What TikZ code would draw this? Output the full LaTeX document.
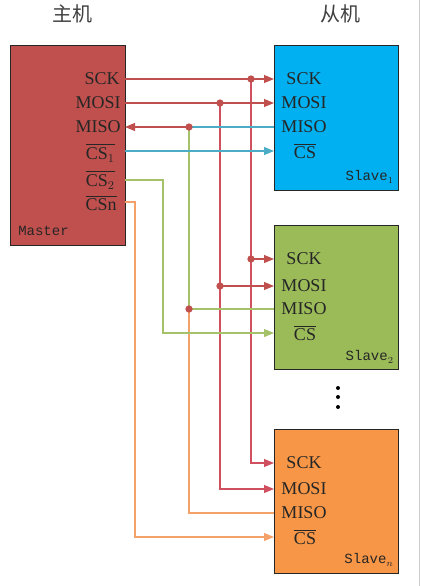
\documentclass[tikz,border=0pt]{standalone}
\usepackage{amsmath}
\usepackage{fontspec}
\setmainfont{Liberation Serif}
\setmonofont{Liberation Mono}
\newfontfamily\cjk{Noto Sans CJK SC}
\usetikzlibrary{arrows.meta}
\definecolor{masterred}{HTML}{C0504D}
\definecolor{busred}{HTML}{D0505F}
\definecolor{slaveblue}{HTML}{00B0F0}
\definecolor{slavegreen}{HTML}{9BBB59}
\definecolor{slaveorange}{HTML}{F79646}
\definecolor{wireblue}{HTML}{4BACC6}
\definecolor{wiregreen}{HTML}{A5C26A}
\definecolor{wireorange}{HTML}{F5A26A}

\begin{document}
\begin{tikzpicture}[x=0.75pt, y=-0.75pt, >={Triangle[length=7.5pt,width=6pt]},
  box/.style={draw=black!85, line width=1pt, inner sep=0pt, anchor=north west},
  pin/.style={font=\fontsize{13.5}{13.5}\selectfont, text=black!85, inner sep=0pt},
  tag/.style={font=\ttfamily\fontsize{10.5}{10.5}\selectfont, text=black!85, inner sep=0pt},
  title/.style={font=\cjk\fontsize{15}{15}\selectfont, text=black!75},
  wire/.style={line width=0.8pt},
  etc/.style={circle, fill=black, inner sep=0pt, minimum size=3pt}]
  \useasboundingbox (0,0) rectangle (421,586);
  \draw[black!20, line width=0.75pt] (419,0) -- (419,586);

  % Nodes
  \node[title] (t-master) at (72,14) {主机};
  \node[title] (t-slave) at (340,14) {从机};

  \node[box, fill=masterred, minimum width=86.25pt, minimum height=150pt] (master) at (10,45) {};
  \node[box, fill=slaveblue, minimum width=93pt, minimum height=108.75pt] (slave1) at (274,45) {};
  \node[box, fill=slavegreen, minimum width=93pt, minimum height=108pt] (slave2) at (274,225) {};
  \node[box, fill=slaveorange, minimum width=93pt, minimum height=108pt] (slaven) at (274,429) {};

  \node[pin, anchor=east] (l-m-sck) at (120,79) {SCK};
  \node[pin, anchor=east] (l-m-mosi) at (121,103) {MOSI};
  \node[pin, anchor=east] (l-m-miso) at (121,127) {MISO};
  \node[pin, anchor=east] (l-m-cs1) at (115,153) {$\overline{\text{CS}_1}$};
  \node[pin, anchor=east] (l-m-cs2) at (115,180) {$\overline{\text{CS}_2}$};
  \node[pin, anchor=east] (l-m-csn) at (117,203) {$\overline{\text{CSn}}$};
  \node[tag, anchor=west] (l-master) at (18,231) {Master};

  \foreach \s/\y in {1/79, 2/259, n/463}{
    \node[pin] (l-s\s-sck) at (304,\y) {SCK};
  }
  \node[pin] (l-s1-mosi) at (304,103) {MOSI};
  \node[pin] (l-s1-miso) at (304,127) {MISO};
  \node[pin] (l-s1-cs) at (305,151) {$\overline{\text{CS}}$};
  \node[tag, anchor=east] (l-slave1) at (394,177) {Slave$_1$};

  \node[pin] (l-s2-mosi) at (304,286) {MOSI};
  \node[pin] (l-s2-miso) at (304,309) {MISO};
  \node[pin] (l-s2-cs) at (305,333) {$\overline{\text{CS}}$};
  \node[tag, anchor=east] (l-slave2) at (394,357) {Slave$_2$};

  \node[pin] (l-sn-mosi) at (304,489) {MOSI};
  \node[pin] (l-sn-miso) at (304,513) {MISO};
  \node[pin] (l-sn-cs) at (305,537) {$\overline{\text{CS}}$};
  \node[tag, anchor=east] (l-slaven) at (394,560) {Slave$_n$};

  \node[etc] (e1) at (338,388) {};
  \node[etc] (e2) at (338,397) {};
  \node[etc] (e3) at (338,407) {};

  % Pins
  \coordinate (m-sck) at (125,79);
  \coordinate (m-mosi) at (125,103);
  \coordinate (m-miso) at (125,127);
  \coordinate (m-cs1) at (125,151);
  \coordinate (m-cs2) at (125,180);
  \coordinate (m-csn) at (125,202);
  \coordinate (s1-sck) at (274,79);
  \coordinate (s1-mosi) at (274,103);
  \coordinate (s1-miso) at (274,127);
  \coordinate (s1-cs) at (274,151);
  \coordinate (s2-sck) at (274,259);
  \coordinate (s2-mosi) at (274,286);
  \coordinate (s2-miso) at (274,309);
  \coordinate (s2-cs) at (274,333);
  \coordinate (sn-sck) at (274,463);
  \coordinate (sn-mosi) at (274,489);
  \coordinate (sn-miso) at (274,513);
  \coordinate (sn-cs) at (274,537);
  \coordinate (t-cs2) at (163,180);
  \coordinate (t-csn) at (135,202);

  % Junctions
  \coordinate (j-sck1) at (251,79);
  \coordinate (j-sck2) at (251,259);
  \coordinate (j-mosi1) at (220,103);
  \coordinate (j-mosi2) at (220,286);
  \coordinate (j-miso1) at (189,127);
  \coordinate (j-miso2) at (189,309);

  % Arrows
  \draw[wire, masterred, ->] (m-sck) -- (s1-sck);
  \draw[wire, busred, ->] (j-sck1) |- (sn-sck);
  \draw[wire, masterred, ->] (j-sck2) -- (s2-sck);
  \draw[wire, masterred, ->] (m-mosi) -- (s1-mosi);
  \draw[wire, busred, ->] (j-mosi1) |- (sn-mosi);
  \draw[wire, masterred, ->] (j-mosi2) -- (s2-mosi);
  \draw[wire, wireblue] (s1-miso) -- (j-miso1);
  \draw[wire, masterred, ->] (j-miso1) -- (m-miso);
  \draw[wire, wiregreen] (j-miso1) -- (j-miso2);
  \draw[wire, wiregreen] (s2-miso) -- (j-miso2);
  \draw[wire, wireorange] (j-miso2) |- (sn-miso);
  \draw[wire, wireblue, ->] (m-cs1) -- (s1-cs);
  \draw[wire, wiregreen, ->] (m-cs2) -- (t-cs2) |- (s2-cs);
  \draw[wire, wireorange, ->] (m-csn) -- (t-csn) |- (sn-cs);

  % dots
  \foreach \j in {j-sck1, j-sck2, j-mosi1, j-mosi2, j-miso1, j-miso2}{
    \fill[masterred] (\j) circle[radius=2.75pt];
  }
\end{tikzpicture}
\end{document}
